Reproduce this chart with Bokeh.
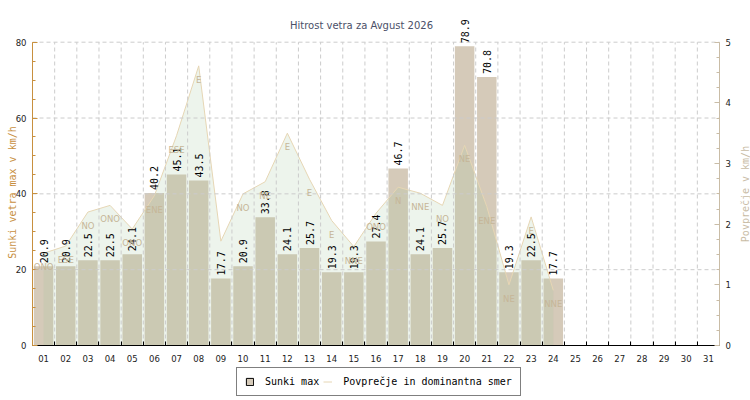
import math
from bokeh.plotting import figure
from bokeh.core.properties import value
from bokeh.models import (Range1d, LinearAxis, FixedTicker, ColumnDataSource,
                          LabelSet, Label, Legend, LegendItem)
from bokeh.embed import file_html
from bokeh.resources import INLINE

# ---------------- data ----------------
title_text = "Hitrost vetra za Avgust 2026"
left_title = "Sunki vetra max v km/h"
right_title = "Povprečje v km/h"
legend_labels = ["Sunki max", "Povprečje in dominantna smer"]

all_days = list(range(1, 32))
day_labels = ["01", "02", "03", "04", "05", "06", "07", "08", "09", "10",
              "11", "12", "13", "14", "15", "16", "17", "18", "19", "20",
              "21", "22", "23", "24", "25", "26", "27", "28", "29", "30", "31"]

days = list(range(1, 25))
gust_max = [20.9, 20.9, 22.5, 22.5, 24.1, 40.2, 45.1, 43.5, 17.7, 20.9,
            33.8, 24.1, 25.7, 19.3, 19.3, 27.4, 46.7, 24.1, 25.7, 78.9,
            70.8, 19.3, 22.5, 17.7]
avg_speed = [1.52, 1.64, 2.20, 2.31, 1.92, 2.47, 3.46, 4.61, 1.72, 2.50,
             2.70, 3.50, 2.74, 2.06, 1.63, 2.18, 2.61, 2.51, 2.31, 3.30,
             2.29, 1.00, 2.12, 0.91]
dom_dir = ["ONO", "ESE", "NO", "ONO", "ONO", "ENE", "ESE", "E", "", "NO",
           "NE", "E", "E", "E", "NNE", "ONO", "N", "NNE", "NO", "NE",
           "ENE", "NE", "E", "NNE"]

left_major = [0, 20, 40, 60, 80]
right_major = [0, 1, 2, 3, 4, 5]
LEFT_MAX = 80
RIGHT_MAX = 5

# ---------------- layout (pixels) ----------------
W, H = 750, 400
PX_L, PX_R = 32.0, 719.0        # x pixel of the first / last day boundary
PX_TOP, PX_BOT = 41.7, 345.0    # y pixel (from top) of axis maximum / zero
N_DAYS = len(all_days)
xpp = N_DAYS / (PX_R - PX_L)                # days per pixel
x0 = 0.5 - PX_L * xpp
x1 = 0.5 + N_DAYS + (W - PX_R) * xpp
lpp = LEFT_MAX / (PX_BOT - PX_TOP)          # left units per pixel
rpp = RIGHT_MAX / (PX_BOT - PX_TOP)         # right units per pixel
yb = -(H - PX_BOT)
yt = PX_BOT

BAR = "#d5cab9"
AREA = "#a0c59b"
LINE = "#e6d6b4"
DIRC = "#c6b698"
LEFTC = "#c8903f"
RIGHTC = "#c9bca6"
GRID = "#cccccc"
TICKC = "#222222"

src = ColumnDataSource(dict(
    day=days, gust=gust_max, avg=avg_speed, dir=dom_dir, zero=[0] * len(days)))

p = figure(width=W, height=H, output_backend="svg", toolbar_location=None,
           title=None,
           x_range=Range1d(x0, x1), y_range=Range1d(yb * lpp, yt * lpp),
           min_border=0)
p.outline_line_color = None
p.background_fill_color = "white"
p.border_fill_color = "white"
p.extra_y_ranges = {"avg": Range1d(yb * rpp, yt * rpp)}
p.xgrid.visible = False
p.ygrid.visible = False

# bars
bars = p.vbar(x="day", top="gust", width=0.88, source=src, fill_color=BAR,
              line_color=None)
# outline used by the legend swatch (zero height: lies on the x axis)
outline = p.vbar(x="day", top="zero", width=0.88, source=src, fill_color=None,
                 line_color="black", line_width=1)
# area + line
p.varea(x="day", y1=0, y2="avg", source=src, y_range_name="avg",
        fill_color=AREA, fill_alpha=0.19)
ln = p.line(x="day", y="avg", source=src, y_range_name="avg",
            line_color=LINE, line_width=1)

# dashed grid (drawn over bars, limited to the axes)
vb = [d + 0.5 for d in all_days[:-1]]
p.segment(x0=vb, y0=[0] * len(vb), x1=vb, y1=[LEFT_MAX] * len(vb),
          line_color=GRID, line_dash="4 3", line_width=1)
hb = left_major[1:]
p.segment(x0=[0.5] * len(hb), y0=hb, x1=[N_DAYS + 0.5] * len(hb), y1=hb,
          line_color=GRID, line_dash="4 3", line_width=1)

# x axis at y = 0
xa = p.xaxis[0]
xa.fixed_location = 0
xa.bounds = (0.5, N_DAYS + 0.5)
xa.ticker = FixedTicker(ticks=all_days, minor_ticks=[d - 0.5 for d in all_days] + [N_DAYS + 0.5])
xa.major_label_overrides = {d: l for d, l in zip(all_days, day_labels)}
xa.major_tick_line_color = None
xa.minor_tick_in = 4
xa.minor_tick_out = 0
xa.minor_tick_line_color = "black"
xa.axis_line_color = "black"
xa.major_label_standoff = 3
xa.major_label_text_font = "DejaVu Sans"
xa.major_label_text_font_size = "8.5px"
xa.major_label_text_color = TICKC

# left axis at the first boundary
ya = p.yaxis[0]
ya.fixed_location = 0.5
ya.bounds = (0, LEFT_MAX)
ya.ticker = FixedTicker(ticks=left_major, minor_ticks=list(range(0, LEFT_MAX + 1, 5)))
ya.axis_line_color = LEFTC
ya.major_tick_line_color = LEFTC
ya.minor_tick_line_color = LEFTC
ya.major_tick_in = 5
ya.major_tick_out = 0
ya.minor_tick_in = 3
ya.minor_tick_out = 0
ya.major_label_standoff = 6
ya.major_label_text_font = "DejaVu Sans"
ya.major_label_text_font_size = "8.5px"
ya.major_label_text_color = TICKC

# right axis at the last boundary
ra = LinearAxis(y_range_name="avg", bounds=(0, RIGHT_MAX), fixed_location=N_DAYS + 0.5,
                ticker=FixedTicker(ticks=right_major,
                                   minor_ticks=[i * 0.25 for i in range(21)]))
ra.axis_line_color = RIGHTC
ra.major_tick_line_color = RIGHTC
ra.minor_tick_line_color = RIGHTC
ra.major_tick_in = 5
ra.major_tick_out = 0
ra.minor_tick_in = 3
ra.minor_tick_out = 0
ra.major_label_standoff = 6
ra.major_label_text_font = "DejaVu Sans"
ra.major_label_text_font_size = "8.5px"
ra.major_label_text_color = TICKC
p.add_layout(ra, "right")

# value labels on bars (rotated, reading upwards)
for d, g in zip(days, gust_max):
    p.add_layout(Label(x=d, y=g, text="%.1f" % g, angle=math.pi / 2,
                       text_align="left", text_baseline="middle", y_offset=3,
                       text_font="DejaVu Sans Mono", text_font_size="10px",
                       text_color="black"))
# direction labels
p.add_layout(LabelSet(x="day", y="avg", text="dir", source=src, y_range_name="avg",
                      text_align="center", text_baseline="middle", y_offset=-14,
                      text_font=value("DejaVu Sans"), text_font_size="8.5px",
                      text_color=DIRC))

# titles (screen units, from bottom-left of the canvas)
p.add_layout(Label(x=361, y=H - 25, x_units="screen", y_units="screen",
                   text=title_text, text_align="center", text_baseline="middle",
                   text_font="DejaVu Sans", text_font_size="10px",
                   text_color="#4b5068"))
p.add_layout(Label(x=11.5, y=H - 192, x_units="screen", y_units="screen",
                   text=left_title, angle=math.pi / 2, text_align="center",
                   text_baseline="alphabetic", text_font="DejaVu Sans Mono",
                   text_font_size="10px", text_color=LEFTC))
p.add_layout(Label(x=745, y=H - 193.5, x_units="screen", y_units="screen",
                   text=right_title, angle=math.pi / 2, text_align="center",
                   text_baseline="alphabetic", text_font="DejaVu Sans Mono",
                   text_font_size="10px", text_color=RIGHTC))

# legend
leg = Legend(items=[LegendItem(label=legend_labels[0], renderers=[bars, outline]),
                    LegendItem(label=legend_labels[1], renderers=[ln])],
             orientation="horizontal", location=(236, 4),
             border_line_color="black", border_line_width=1,
             background_fill_color="white", background_fill_alpha=1,
             glyph_width=9, glyph_height=9, label_standoff=11, spacing=4,
             padding=8, margin=0,
             label_text_font="DejaVu Sans Mono", label_text_font_size="10px",
             label_text_color="black")
p.add_layout(leg, "center")

open("out.html", "w").write(file_html(p, INLINE))
